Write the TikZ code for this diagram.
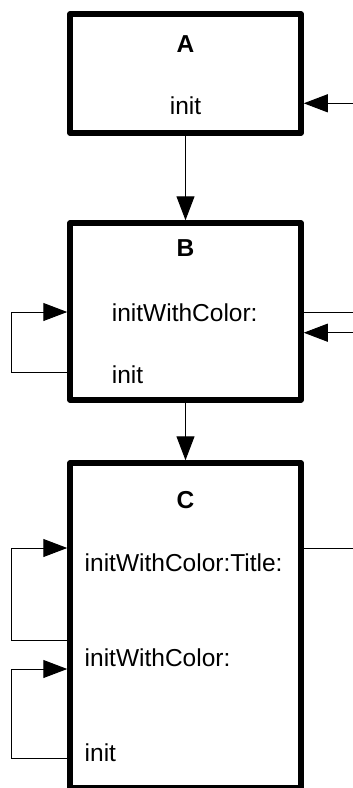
\documentclass[tikz,border=0pt]{standalone}
\usepackage{fontspec}
\setmainfont{Liberation Sans}
\usetikzlibrary{arrows.meta}
\tikzset{
  box/.style={draw, line width=5.5pt, line join=round, inner sep=0pt, minimum width=231pt},
  conn/.style={line width=1pt},
  arr/.style={conn, -{Triangle[length=24pt,width=18pt]}},
  lbl/.style={font=\fontsize{24.5}{29}\selectfont, anchor=base west, inner sep=0pt},
  ttl/.style={font=\fontsize{24.5}{29}\selectfont\bfseries, anchor=base, inner sep=0pt}
}
\begin{document}
\begin{tikzpicture}[x=1pt,y=-1pt]
\useasboundingbox (0,0) rectangle (353,788);
\clip (0,0) rectangle (353,788);
% boxes
\node[box, minimum height=119pt] (A) at (185.5,73.5) {};
\node[box, minimum height=177pt] (B) at (185.5,311.5) {};
\node[box, minimum height=325pt] (C) at (185.5,625.5) {};
% texts
\node[ttl] (At) at (185.5,52) {A};
\node[ttl, font=\fontsize{24.5}{29}\selectfont] (Ai) at (185.5,114) {init};
\node[ttl] (Bt) at (185.5,256.7) {B};
\node[lbl] (Bw) at (111.7,321.5) {initWithColor:};
\node[lbl] (Bi) at (111.7,383) {init};
\node[ttl] (Ct) at (185.5,508) {C};
\node[lbl] (Cwt) at (84.5,571.7) {initWithColor:Title:};
\node[lbl] (Cw) at (84.5,666.7) {initWithColor:};
\node[lbl] (Ci) at (84.5,761) {init};
% vertical arrows
\draw[arr] (A.south) -- (B.north);
\draw[arr] (B.south) -- (C.north);
% coordinates
\coordinate (ra) at (353,103.3);
\coordinate (rb1) at (353,312);
\coordinate (rb2) at (353,332.7);
\coordinate (rc) at (353,548);
\coordinate (lb1) at (11,372);
\coordinate (lb2) at (11,312);
\coordinate (lc1) at (11,640);
\coordinate (lc2) at (11,548);
\coordinate (lc3) at (11,758);
\coordinate (lc4) at (11,669);
% right side
\draw[arr] (ra) -- (A.east |- ra);
\draw[conn] (B.east |- rb1) -- (rb1);
\draw[arr] (rb2) -- (B.east |- rb2);
\draw[conn] (C.east |- rc) -- (rc);
% left loops
\draw[arr] (B.west |- lb1) -- (lb1) -- (lb2) -- (B.west |- lb2);
\draw[arr] (C.west |- lc1) -- (lc1) -- (lc2) -- (C.west |- lc2);
\draw[arr] (C.west |- lc3) -- (lc3) -- (lc4) -- (C.west |- lc4);
\end{tikzpicture}
\end{document}
